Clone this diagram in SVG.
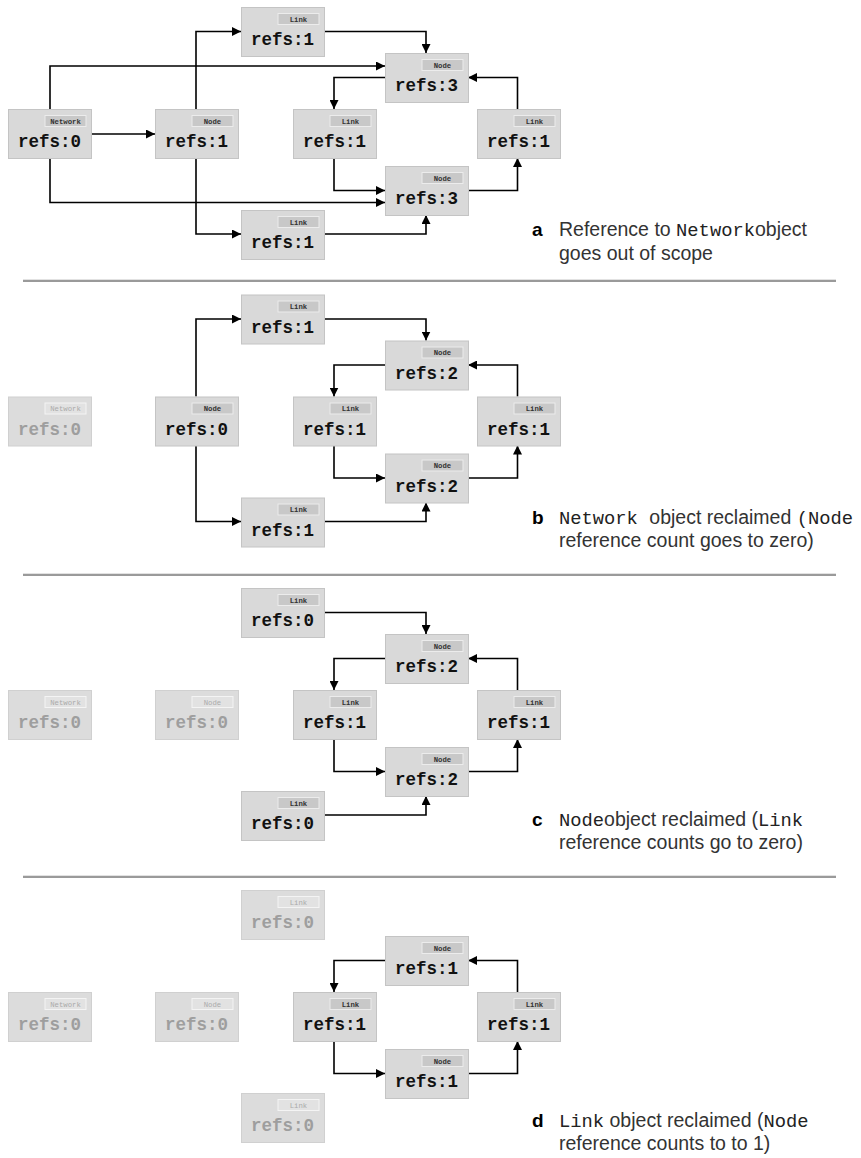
<svg xmlns="http://www.w3.org/2000/svg" width="861" height="1158" viewBox="0 0 861 1158">
  <style>
    .bg { fill: #d9d9d9; stroke: #c4c4c4; stroke-width: 1; }
    .tab { fill: #c8c8c8; stroke: #ececec; stroke-width: 1; }
    .ref { font-family: "Liberation Mono", "DejaVu Sans Mono", monospace; font-weight: bold; font-size: 17.5px; fill: #111; text-anchor: middle; }
    .tag { font-family: "Liberation Mono", "DejaVu Sans Mono", monospace; font-weight: bold; font-size: 7.3px; fill: #333; text-anchor: middle; }
    .faded .bg { fill: #dcdcdc; stroke: #d0d0d0; }
    .faded .tab { fill: #e2e2e2; stroke: #f4f4f4; }
    .faded .ref { fill: #9e9e9e; }
    .faded .tag { fill: #aaaaaa; font-weight: normal; }
    .wire { fill: none; stroke: #000; stroke-width: 1.6; marker-end: url(#head); }
    .rule-light { fill: #e2e2e2; }
    .rule-dark { fill: #9a9a9a; }
    .cap { font-family: "Liberation Sans", Arial, sans-serif; font-size: 19.5px; fill: #333; }
    .mono { font-family: "Liberation Mono", "Courier New", monospace; font-size: 18.8px; fill: #222; }
    .lbl { font-family: "Liberation Sans", Arial, sans-serif; font-weight: bold; font-size: 19px; fill: #000; }
  </style>
  <defs>
    <marker id="head" viewBox="0 0 10 10" refX="10" refY="5" markerWidth="9" markerHeight="9" markerUnits="userSpaceOnUse" orient="auto">
      <path d="M0,0 L10,5 L0,10 z" fill="#000"/>
    </marker>
  </defs>

  <!-- separators between the four stages -->
  <g id="rules">
    <rect class="rule-light" x="23" y="279" width="813" height="1"/>
    <rect class="rule-dark" x="23" y="280" width="813" height="2"/>
    <rect class="rule-light" x="23" y="573" width="813" height="1"/>
    <rect class="rule-dark" x="23" y="574" width="813" height="2"/>
    <rect class="rule-light" x="23" y="875" width="813" height="1"/>
    <rect class="rule-dark" x="23" y="876" width="813" height="2"/>
  </g>

  <!-- stage a -->
  <g id="stage-a">
    <g id="a-connectors">
      <path class="wire" d="M91.5,134 H155"/>
      <path class="wire" d="M50,109 V66 H385"/>
      <path class="wire" d="M50,158 V202.5 H385"/>
      <path class="wire" d="M196,109 V31.5 H241"/>
      <path class="wire" d="M196,158 V234 H241"/>
      <path class="wire" d="M324,31.5 H426 V53"/>
      <path class="wire" d="M385,77.5 H334 V109"/>
      <path class="wire" d="M334,158 V190.5 H385"/>
      <path class="wire" d="M324,234 H426 V215"/>
      <path class="wire" d="M468,190.5 H517.5 V158"/>
      <path class="wire" d="M517.5,109 V77.5 H468"/>
    </g>
    <g id="a-network" transform="translate(8,109)">
      <rect class="bg" x="0.5" y="0.5" width="83" height="49"/>
      <rect class="tab" x="37" y="6.5" width="41" height="11"/>
      <text class="tag" x="57.5" y="14.5">Network</text>
      <text class="ref" x="41.5" y="38">refs:0</text>
    </g>
    <g id="a-node" transform="translate(155,109)">
      <rect class="bg" x="0.5" y="0.5" width="83" height="49"/>
      <rect class="tab" x="37" y="6.5" width="41" height="11"/>
      <text class="tag" x="57.5" y="14.5">Node</text>
      <text class="ref" x="41.5" y="38">refs:1</text>
    </g>
    <g id="a-link-top" transform="translate(241,7)">
      <rect class="bg" x="0.5" y="0.5" width="83" height="49"/>
      <rect class="tab" x="37" y="6.5" width="41" height="11"/>
      <text class="tag" x="57.5" y="14.5">Link</text>
      <text class="ref" x="41.5" y="38">refs:1</text>
    </g>
    <g id="a-node-top" transform="translate(385,53)">
      <rect class="bg" x="0.5" y="0.5" width="83" height="49"/>
      <rect class="tab" x="37" y="6.5" width="41" height="11"/>
      <text class="tag" x="57.5" y="14.5">Node</text>
      <text class="ref" x="41.5" y="38">refs:3</text>
    </g>
    <g id="a-link-left" transform="translate(293,109)">
      <rect class="bg" x="0.5" y="0.5" width="83" height="49"/>
      <rect class="tab" x="37" y="6.5" width="41" height="11"/>
      <text class="tag" x="57.5" y="14.5">Link</text>
      <text class="ref" x="41.5" y="38">refs:1</text>
    </g>
    <g id="a-link-right" transform="translate(477,109)">
      <rect class="bg" x="0.5" y="0.5" width="83" height="49"/>
      <rect class="tab" x="37" y="6.5" width="41" height="11"/>
      <text class="tag" x="57.5" y="14.5">Link</text>
      <text class="ref" x="41.5" y="38">refs:1</text>
    </g>
    <g id="a-node-bottom" transform="translate(385,166)">
      <rect class="bg" x="0.5" y="0.5" width="83" height="49"/>
      <rect class="tab" x="37" y="6.5" width="41" height="11"/>
      <text class="tag" x="57.5" y="14.5">Node</text>
      <text class="ref" x="41.5" y="38">refs:3</text>
    </g>
    <g id="a-link-bottom" transform="translate(241,210)">
      <rect class="bg" x="0.5" y="0.5" width="83" height="49"/>
      <rect class="tab" x="37" y="6.5" width="41" height="11"/>
      <text class="tag" x="57.5" y="14.5">Link</text>
      <text class="ref" x="41.5" y="38">refs:1</text>
    </g>
    <g id="a-caption">
      <text class="lbl" x="532" y="236">a</text>
      <text class="cap" x="559" y="236">Reference to <tspan class="mono">Network</tspan>object</text>
      <text class="cap" x="559" y="259.5">goes out of scope</text>
    </g>
  </g>

  <!-- stage b -->
  <g id="stage-b" transform="translate(0,287.5)">
    <g id="b-connectors">
      <path class="wire" d="M196,109 V31.5 H241"/>
      <path class="wire" d="M196,158 V234 H241"/>
      <path class="wire" d="M324,31.5 H426 V53"/>
      <path class="wire" d="M385,77.5 H334 V109"/>
      <path class="wire" d="M334,158 V190.5 H385"/>
      <path class="wire" d="M324,234 H426 V215"/>
      <path class="wire" d="M468,190.5 H517.5 V158"/>
      <path class="wire" d="M517.5,109 V77.5 H468"/>
    </g>
    <g id="b-network" class="faded" transform="translate(8,109)">
      <rect class="bg" x="0.5" y="0.5" width="83" height="49"/>
      <rect class="tab" x="37" y="6.5" width="41" height="11"/>
      <text class="tag" x="57.5" y="14.5">Network</text>
      <text class="ref" x="41.5" y="38">refs:0</text>
    </g>
    <g id="b-node" transform="translate(155,109)">
      <rect class="bg" x="0.5" y="0.5" width="83" height="49"/>
      <rect class="tab" x="37" y="6.5" width="41" height="11"/>
      <text class="tag" x="57.5" y="14.5">Node</text>
      <text class="ref" x="41.5" y="38">refs:0</text>
    </g>
    <g id="b-link-top" transform="translate(241,7)">
      <rect class="bg" x="0.5" y="0.5" width="83" height="49"/>
      <rect class="tab" x="37" y="6.5" width="41" height="11"/>
      <text class="tag" x="57.5" y="14.5">Link</text>
      <text class="ref" x="41.5" y="38">refs:1</text>
    </g>
    <g id="b-node-top" transform="translate(385,53)">
      <rect class="bg" x="0.5" y="0.5" width="83" height="49"/>
      <rect class="tab" x="37" y="6.5" width="41" height="11"/>
      <text class="tag" x="57.5" y="14.5">Node</text>
      <text class="ref" x="41.5" y="38">refs:2</text>
    </g>
    <g id="b-link-left" transform="translate(293,109)">
      <rect class="bg" x="0.5" y="0.5" width="83" height="49"/>
      <rect class="tab" x="37" y="6.5" width="41" height="11"/>
      <text class="tag" x="57.5" y="14.5">Link</text>
      <text class="ref" x="41.5" y="38">refs:1</text>
    </g>
    <g id="b-link-right" transform="translate(477,109)">
      <rect class="bg" x="0.5" y="0.5" width="83" height="49"/>
      <rect class="tab" x="37" y="6.5" width="41" height="11"/>
      <text class="tag" x="57.5" y="14.5">Link</text>
      <text class="ref" x="41.5" y="38">refs:1</text>
    </g>
    <g id="b-node-bottom" transform="translate(385,166)">
      <rect class="bg" x="0.5" y="0.5" width="83" height="49"/>
      <rect class="tab" x="37" y="6.5" width="41" height="11"/>
      <text class="tag" x="57.5" y="14.5">Node</text>
      <text class="ref" x="41.5" y="38">refs:2</text>
    </g>
    <g id="b-link-bottom" transform="translate(241,210)">
      <rect class="bg" x="0.5" y="0.5" width="83" height="49"/>
      <rect class="tab" x="37" y="6.5" width="41" height="11"/>
      <text class="tag" x="57.5" y="14.5">Link</text>
      <text class="ref" x="41.5" y="38">refs:1</text>
    </g>
  </g>
  <g id="b-caption">
    <text class="lbl" x="532" y="524">b</text>
    <text class="cap" x="559" y="524"><tspan class="mono">Network</tspan><tspan dx="6"> object reclaimed </tspan><tspan class="mono">(Node</tspan></text>
    <text class="cap" x="559" y="547">reference count goes to zero)</text>
  </g>

  <!-- stage c -->
  <g id="stage-c" transform="translate(0,581)">
    <g id="c-connectors">
      <path class="wire" d="M324,31.5 H426 V53"/>
      <path class="wire" d="M385,77.5 H334 V109"/>
      <path class="wire" d="M334,158 V190.5 H385"/>
      <path class="wire" d="M324,234 H426 V215"/>
      <path class="wire" d="M468,190.5 H517.5 V158"/>
      <path class="wire" d="M517.5,109 V77.5 H468"/>
    </g>
    <g id="c-network" class="faded" transform="translate(8,109)">
      <rect class="bg" x="0.5" y="0.5" width="83" height="49"/>
      <rect class="tab" x="37" y="6.5" width="41" height="11"/>
      <text class="tag" x="57.5" y="14.5">Network</text>
      <text class="ref" x="41.5" y="38">refs:0</text>
    </g>
    <g id="c-node" class="faded" transform="translate(155,109)">
      <rect class="bg" x="0.5" y="0.5" width="83" height="49"/>
      <rect class="tab" x="37" y="6.5" width="41" height="11"/>
      <text class="tag" x="57.5" y="14.5">Node</text>
      <text class="ref" x="41.5" y="38">refs:0</text>
    </g>
    <g id="c-link-top" transform="translate(241,7)">
      <rect class="bg" x="0.5" y="0.5" width="83" height="49"/>
      <rect class="tab" x="37" y="6.5" width="41" height="11"/>
      <text class="tag" x="57.5" y="14.5">Link</text>
      <text class="ref" x="41.5" y="38">refs:0</text>
    </g>
    <g id="c-node-top" transform="translate(385,53)">
      <rect class="bg" x="0.5" y="0.5" width="83" height="49"/>
      <rect class="tab" x="37" y="6.5" width="41" height="11"/>
      <text class="tag" x="57.5" y="14.5">Node</text>
      <text class="ref" x="41.5" y="38">refs:2</text>
    </g>
    <g id="c-link-left" transform="translate(293,109)">
      <rect class="bg" x="0.5" y="0.5" width="83" height="49"/>
      <rect class="tab" x="37" y="6.5" width="41" height="11"/>
      <text class="tag" x="57.5" y="14.5">Link</text>
      <text class="ref" x="41.5" y="38">refs:1</text>
    </g>
    <g id="c-link-right" transform="translate(477,109)">
      <rect class="bg" x="0.5" y="0.5" width="83" height="49"/>
      <rect class="tab" x="37" y="6.5" width="41" height="11"/>
      <text class="tag" x="57.5" y="14.5">Link</text>
      <text class="ref" x="41.5" y="38">refs:1</text>
    </g>
    <g id="c-node-bottom" transform="translate(385,166)">
      <rect class="bg" x="0.5" y="0.5" width="83" height="49"/>
      <rect class="tab" x="37" y="6.5" width="41" height="11"/>
      <text class="tag" x="57.5" y="14.5">Node</text>
      <text class="ref" x="41.5" y="38">refs:2</text>
    </g>
    <g id="c-link-bottom" transform="translate(241,210)">
      <rect class="bg" x="0.5" y="0.5" width="83" height="49"/>
      <rect class="tab" x="37" y="6.5" width="41" height="11"/>
      <text class="tag" x="57.5" y="14.5">Link</text>
      <text class="ref" x="41.5" y="38">refs:0</text>
    </g>
  </g>
  <g id="c-caption">
    <text class="lbl" x="532" y="826">c</text>
    <text class="cap" x="559" y="826"><tspan class="mono">Node</tspan>object reclaimed (<tspan class="mono">Link</tspan></text>
    <text class="cap" x="559" y="849">reference counts go to zero)</text>
  </g>

  <!-- stage d -->
  <g id="stage-d" transform="translate(0,883)">
    <g id="d-connectors">
      <path class="wire" d="M385,77.5 H334 V109"/>
      <path class="wire" d="M334,158 V190.5 H385"/>
      <path class="wire" d="M468,190.5 H517.5 V158"/>
      <path class="wire" d="M517.5,109 V77.5 H468"/>
    </g>
    <g id="d-network" class="faded" transform="translate(8,109)">
      <rect class="bg" x="0.5" y="0.5" width="83" height="49"/>
      <rect class="tab" x="37" y="6.5" width="41" height="11"/>
      <text class="tag" x="57.5" y="14.5">Network</text>
      <text class="ref" x="41.5" y="38">refs:0</text>
    </g>
    <g id="d-node" class="faded" transform="translate(155,109)">
      <rect class="bg" x="0.5" y="0.5" width="83" height="49"/>
      <rect class="tab" x="37" y="6.5" width="41" height="11"/>
      <text class="tag" x="57.5" y="14.5">Node</text>
      <text class="ref" x="41.5" y="38">refs:0</text>
    </g>
    <g id="d-link-top" class="faded" transform="translate(241,7)">
      <rect class="bg" x="0.5" y="0.5" width="83" height="49"/>
      <rect class="tab" x="37" y="6.5" width="41" height="11"/>
      <text class="tag" x="57.5" y="14.5">Link</text>
      <text class="ref" x="41.5" y="38">refs:0</text>
    </g>
    <g id="d-node-top" transform="translate(385,53)">
      <rect class="bg" x="0.5" y="0.5" width="83" height="49"/>
      <rect class="tab" x="37" y="6.5" width="41" height="11"/>
      <text class="tag" x="57.5" y="14.5">Node</text>
      <text class="ref" x="41.5" y="38">refs:1</text>
    </g>
    <g id="d-link-left" transform="translate(293,109)">
      <rect class="bg" x="0.5" y="0.5" width="83" height="49"/>
      <rect class="tab" x="37" y="6.5" width="41" height="11"/>
      <text class="tag" x="57.5" y="14.5">Link</text>
      <text class="ref" x="41.5" y="38">refs:1</text>
    </g>
    <g id="d-link-right" transform="translate(477,109)">
      <rect class="bg" x="0.5" y="0.5" width="83" height="49"/>
      <rect class="tab" x="37" y="6.5" width="41" height="11"/>
      <text class="tag" x="57.5" y="14.5">Link</text>
      <text class="ref" x="41.5" y="38">refs:1</text>
    </g>
    <g id="d-node-bottom" transform="translate(385,166)">
      <rect class="bg" x="0.5" y="0.5" width="83" height="49"/>
      <rect class="tab" x="37" y="6.5" width="41" height="11"/>
      <text class="tag" x="57.5" y="14.5">Node</text>
      <text class="ref" x="41.5" y="38">refs:1</text>
    </g>
    <g id="d-link-bottom" class="faded" transform="translate(241,210)">
      <rect class="bg" x="0.5" y="0.5" width="83" height="49"/>
      <rect class="tab" x="37" y="6.5" width="41" height="11"/>
      <text class="tag" x="57.5" y="14.5">Link</text>
      <text class="ref" x="41.5" y="38">refs:0</text>
    </g>
  </g>
  <g id="d-caption">
    <text class="lbl" x="532" y="1127">d</text>
    <text class="cap" x="559" y="1127"><tspan class="mono">Link</tspan> object reclaimed (<tspan class="mono">Node</tspan></text>
    <text class="cap" x="559" y="1150">reference counts to to 1)</text>
  </g>
</svg>
